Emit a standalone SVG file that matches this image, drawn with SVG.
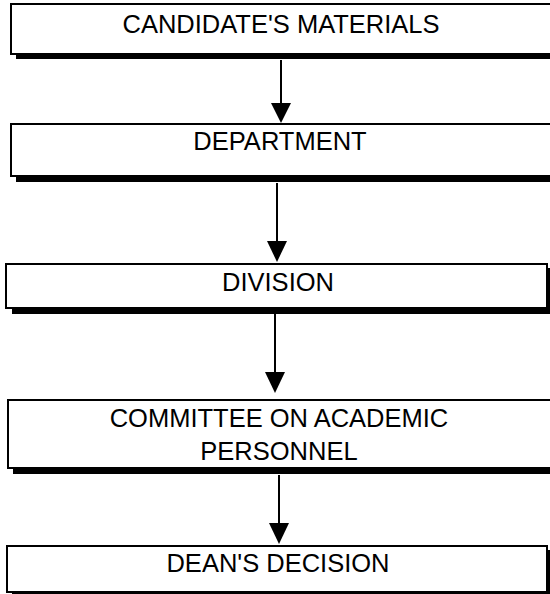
<svg xmlns="http://www.w3.org/2000/svg" width="550" height="594" viewBox="0 0 550 594">
<style>
.box{fill:#fff;stroke:#000;stroke-width:2}
.sh{fill:#000}
.t{font-family:"Liberation Sans",Arial,sans-serif;font-size:25.5px;text-anchor:middle;fill:#000}
.c{stroke:#000;stroke-width:2;fill:none}
.h{fill:#000}
</style>
<g id="n1">
<rect class="sh" x="16" y="54" width="540" height="5"/>
<rect class="box" x="11" y="4" width="560" height="50"/>
<text class="t" x="281" y="33">CANDIDATE'S MATERIALS</text>
</g>
<g id="n2">
<rect class="sh" x="16" y="176" width="540" height="6"/>
<rect class="box" x="11" y="124" width="560" height="52"/>
<text class="t" x="280" y="150">DEPARTMENT</text>
</g>
<g id="n3">
<rect class="sh" x="12" y="308" width="538" height="6"/>
<rect class="sh" x="546" y="268" width="4" height="46"/>
<rect class="box" x="6" y="264" width="541" height="44"/>
<text class="t" x="278" y="291">DIVISION</text>
</g>
<g id="n4">
<rect class="sh" x="13" y="468" width="540" height="6"/>
<rect class="box" x="8" y="400" width="560" height="68"/>
<text class="t" x="279" y="427">COMMITTEE ON ACADEMIC</text>
<text class="t" x="279" y="460">PERSONNEL</text>
</g>
<g id="n5">
<rect class="sh" x="12" y="592" width="538" height="5"/>
<rect class="sh" x="546" y="550" width="4" height="47"/>
<rect class="box" x="7" y="546" width="540" height="46"/>
<text class="t" x="278" y="572">DEAN'S DECISION</text>
</g>
<g id="connectors">
<line class="c" x1="281" y1="60" x2="281" y2="104"/>
<polygon class="h" points="271,103 291,103 281,123"/>
<line class="c" x1="277" y1="183" x2="277" y2="242"/>
<polygon class="h" points="267,241 287,241 277,262"/>
<line class="c" x1="275" y1="314" x2="275" y2="373"/>
<polygon class="h" points="265,372 285,372 275,393"/>
<line class="c" x1="279" y1="475" x2="279" y2="524"/>
<polygon class="h" points="269,523 289,523 279,544"/>
</g>
</svg>
